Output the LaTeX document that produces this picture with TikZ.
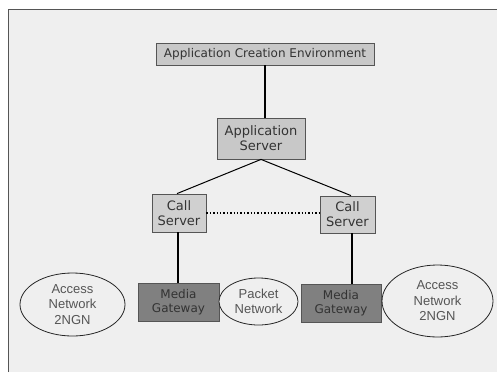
\documentclass[tikz,border=0pt]{standalone}
\usepackage{fontspec}
\setmainfont{DejaVu Sans}
\newfontfamily\ellfont{Liberation Sans}
\usetikzlibrary{shapes.geometric}
\definecolor{bgc}{HTML}{EFEFEF}
\definecolor{framec}{HTML}{555555}
\definecolor{lightbox}{HTML}{C8C8C8}
\definecolor{callbox}{HTML}{D0D0D0}
\definecolor{darkbox}{HTML}{808080}
\definecolor{boxtext}{HTML}{333333}
\definecolor{elltext}{HTML}{555555}
\tikzset{
  lbox/.style={draw=framec, line width=0.8pt, fill=lightbox, text=boxtext, inner sep=0pt, align=center},
  cbox/.style={lbox, fill=callbox},
  dbox/.style={lbox, fill=darkbox, text=boxtext},
  oval/.style={ellipse, draw=black!85, line width=0.8pt, inner sep=0pt, align=center, text=elltext, font=\ellfont\fontsize{13}{15.5}\selectfont},
  link/.style={line width=1.4pt, black},
  bigfont/.style={font=\fontsize{13}{15}\selectfont},
  smallfont/.style={font=\fontsize{12}{14}\selectfont}
}
\begin{document}
\begin{tikzpicture}[x=1pt,y=-1pt]
\useasboundingbox (0,0) rectangle (497,372);
\fill[white] (0,0) rectangle (497,372);
\fill[bgc] (8.5,9.5) rectangle (497,372);
\draw[framec, line width=1.5pt] (8.5,372) -- (8.5,9.5) -- (497,9.5);

\node[lbox, smallfont, minimum width=218pt, minimum height=22pt] (ace) at (265,54) {Application Creation Environment};
\node[lbox, bigfont, minimum width=88pt, minimum height=41pt] (as) at (261,138.5) {Application\\Server};
\node[cbox, bigfont, minimum width=54pt, minimum height=38pt] (lcs) at (179,213) {Call\\Server};
\node[cbox, bigfont, minimum width=55pt, minimum height=37pt] (rcs) at (347.5,214.5) {Call\\Server};
\node[dbox, smallfont, minimum width=81pt, minimum height=38pt] (lmg) at (178.5,302) {Media\\Gateway};
\node[dbox, smallfont, minimum width=80pt, minimum height=38pt] (rmg) at (341,303) {Media\\Gateway};

\node[oval, fill=bgc, minimum width=79pt, minimum height=47pt] (pn) at (258.5,301.5) {Packet\\Network};
\node[oval, minimum width=105pt, minimum height=63pt] (lan) at (72.5,304.5) {Access\\Network\\2NGN};
\node[oval, minimum width=111pt, minimum height=72pt] (ran) at (437.5,301) {Access\\Network\\2NGN};

\draw[link] (ace.south) -- (ace.south |- as.north);
\draw[line width=1pt] (as.south) -- ([xshift=-2pt]lcs.north);
\draw[line width=1pt] (as.south) -- ([xshift=3.5pt]rcs.north);
\draw[line width=1.4pt, dotted] (lcs.east) -- (rcs.west |- lcs.east);
\draw[link] ([xshift=-1pt]lcs.south) -- ([xshift=-1pt]lcs.south |- lmg.north);
\draw[link] ([xshift=4.5pt]rcs.south) -- ([xshift=4.5pt]rcs.south |- rmg.north);
\end{tikzpicture}
\end{document}
